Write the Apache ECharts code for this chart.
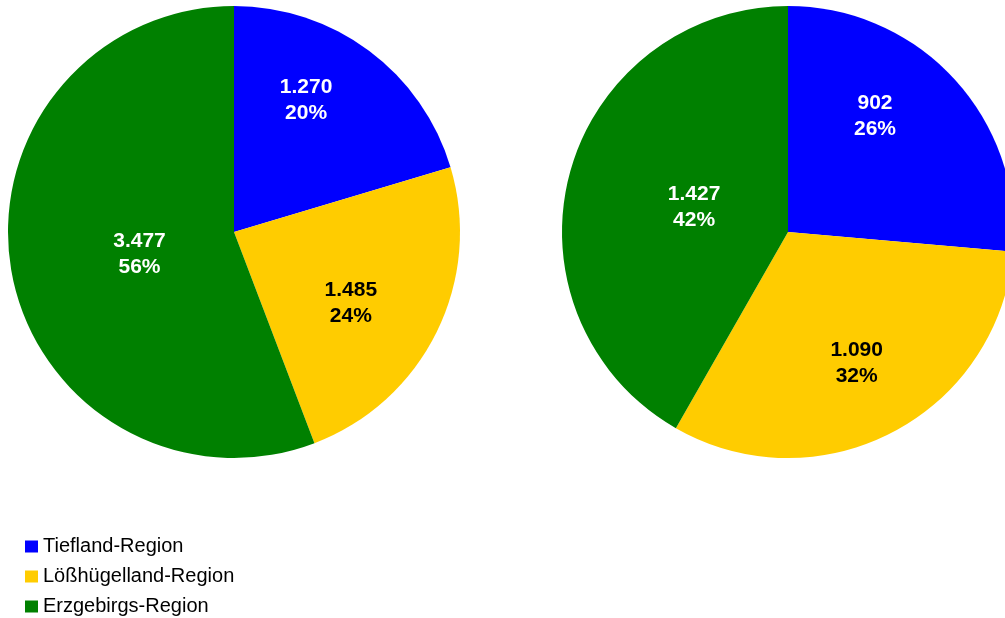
<!DOCTYPE html>
<html>
<head>
<meta charset="utf-8">
<style>
  html, body { margin: 0; padding: 0; background: #ffffff; }
  #chart { width: 1005px; height: 618px; }
</style>
<script src="https://cdn.jsdelivr.net/npm/echarts@6/dist/echarts.min.js"></script>
</head>
<body>
<div id="chart"></div>
<script>
// Regions shown in both pies
const regions = ['Tiefland-Region', 'Lößhügelland-Region', 'Erzgebirgs-Region'];
// Values for the left and right pie
const valuesLeft = [1270, 1485, 3477];
const valuesRight = [902, 1090, 1427];

const sliceColors = ['#0000ff', '#ffcc00', '#008000'];
const labelColors = ['#ffffff', '#000000', '#ffffff'];
const FONT = '"Liberation Sans", Arial, sans-serif';
const RADIUS = 226;

// German thousands separator
function fmtNumber(v) {
  return String(v).replace(/\B(?=(\d{3})+(?!\d))/g, '.');
}

// Place each label at a share of the radius, turned a few degrees off the slice bisector
function makeLabelLayout(center, shares, turns) {
  return function (params) {
    const r = params.labelRect;
    const lx = r.x + r.width / 2;
    const ly = r.y + r.height / 2;
    const ang = Math.atan2(lx - center[0], -(ly - center[1])) + turns[params.dataIndex] * Math.PI / 180;
    const d = shares[params.dataIndex] * RADIUS;
    const nx = center[0] + d * Math.sin(ang);
    const ny = center[1] - d * Math.cos(ang);
    return { dx: nx - lx, dy: ny - ly };
  };
}

function buildSeries(values, center, shares, turns) {
  return {
    type: 'pie',
    center: center,
    radius: RADIUS,
    startAngle: 90,
    clockwise: true,
    avoidLabelOverlap: false,
    silent: true,
    itemStyle: { borderWidth: 0 },
    label: {
      show: true,
      position: 'inside',
      fontFamily: FONT,
      fontWeight: 'bold',
      fontSize: 21,
      lineHeight: 26,
      formatter: p => fmtNumber(p.value) + '\n' + Math.round(p.percent) + '%'
    },
    labelLine: { show: false },
    labelLayout: makeLabelLayout(center, shares, turns),
    data: values.map((v, i) => ({
      name: regions[i],
      value: v,
      itemStyle: { color: sliceColors[i] },
      label: { color: labelColors[i] }
    }))
  };
}

const chart = echarts.init(document.getElementById('chart'), null, { renderer: 'canvas' });
chart.setOption({
  animation: false,
  backgroundColor: '#ffffff',
  color: sliceColors,
  legend: {
    orient: 'vertical',
    left: 25,
    top: 536,
    height: 82,
    padding: 0,
    icon: 'rect',
    itemWidth: 13,
    itemHeight: 12,
    itemGap: 9,
    textStyle: { fontFamily: FONT, fontSize: 20, color: '#000000', lineHeight: 21 },
    data: regions
  },
  series: [
    buildSeries(valuesLeft, [234, 232], [0.665, 0.605, 0.43], [-8, 5, -3]),
    buildSeries(valuesRight, [788, 232], [0.64, 0.655, 0.43], [-10.5, 0, 0])
  ]
});
</script>
</body>
</html>
